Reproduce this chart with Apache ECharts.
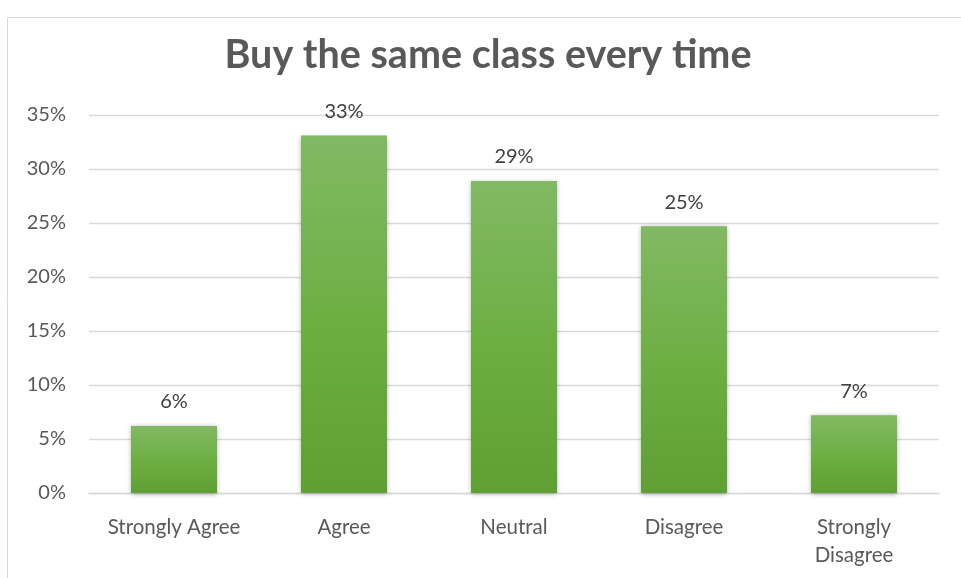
<!DOCTYPE html>
<html>
<head>
<meta charset="utf-8">
<script src="https://cdn.jsdelivr.net/npm/echarts@6/dist/echarts.min.js"></script>
<style>
  html, body { margin: 0; padding: 0; background: #ffffff; }
  #chart { width: 961px; height: 578px; }
</style>
</head>
<body>
<div id="chart"></div>
<script>
// Survey responses: "Buy the same class every time"
const chartTitle = 'Buy the same class every time';
const categories = ['Strongly Agree', 'Agree', 'Neutral', 'Disagree', 'Strongly Disagree'];
const shares = [0.062, 0.331, 0.289, 0.247, 0.072];
const axisMax = 0.35;
const axisStep = 0.05;

const FONT = 'Lato, "Open Sans", sans-serif';
const pct = v => Math.round(v * 100) + '%';

const chart = echarts.init(document.getElementById('chart'), null, { renderer: 'canvas' });

chart.setOption({
  backgroundColor: '#ffffff',
  animation: false,
  graphic: [
    {
      type: 'rect',
      shape: { x: 7.5, y: 17.5, width: 1000, height: 1000 },
      style: { fill: 'none', stroke: '#d9d9d9', lineWidth: 1 },
      silent: true
    },
    {
      type: 'text',
      x: 488,
      y: 55,
      style: {
        text: chartTitle,
        fontFamily: FONT,
        fontWeight: 'bold',
        fontSize: 39.5,
        fill: '#595959',
        textAlign: 'center',
        textVerticalAlign: 'middle'
      }
    }
  ],
  grid: { left: 89, right: 22, top: 115, bottom: 85 },
  xAxis: {
    type: 'category',
    data: categories,
    axisLine: { show: true, lineStyle: { color: '#d9d9d9', width: 1.3 } },
    axisTick: { show: false },
    axisLabel: {
      interval: 0,
      margin: 20,
      color: '#595959',
      fontFamily: FONT,
      fontSize: 20.5,
      lineHeight: 28,
      formatter: v => v === 'Strongly Disagree' ? 'Strongly\nDisagree' : v
    }
  },
  yAxis: {
    type: 'value',
    min: 0,
    max: axisMax,
    interval: axisStep,
    axisLine: { show: false },
    axisTick: { show: false },
    splitLine: { lineStyle: { color: '#d9d9d9', width: 1.3 } },
    axisLabel: {
      margin: 23,
      color: '#595959',
      fontFamily: FONT,
      fontSize: 20,
      formatter: pct
    }
  },
  series: [{
    type: 'bar',
    data: shares,
    barWidth: '50.6%',
    itemStyle: {
      color: new echarts.graphic.LinearGradient(0, 0, 0, 1, [
        { offset: 0, color: '#82b964' },
        { offset: 0.5, color: '#6eaf44' },
        { offset: 1, color: '#5f9f34' }
      ]),
      shadowColor: 'rgba(0,0,0,0.35)',
      shadowBlur: 5,
      shadowOffsetY: 1
    },
    label: {
      show: true,
      position: 'top',
      distance: 14,
      color: '#404040',
      fontFamily: FONT,
      fontSize: 20,
      formatter: p => pct(p.value)
    }
  }]
});
</script>
</body>
</html>
